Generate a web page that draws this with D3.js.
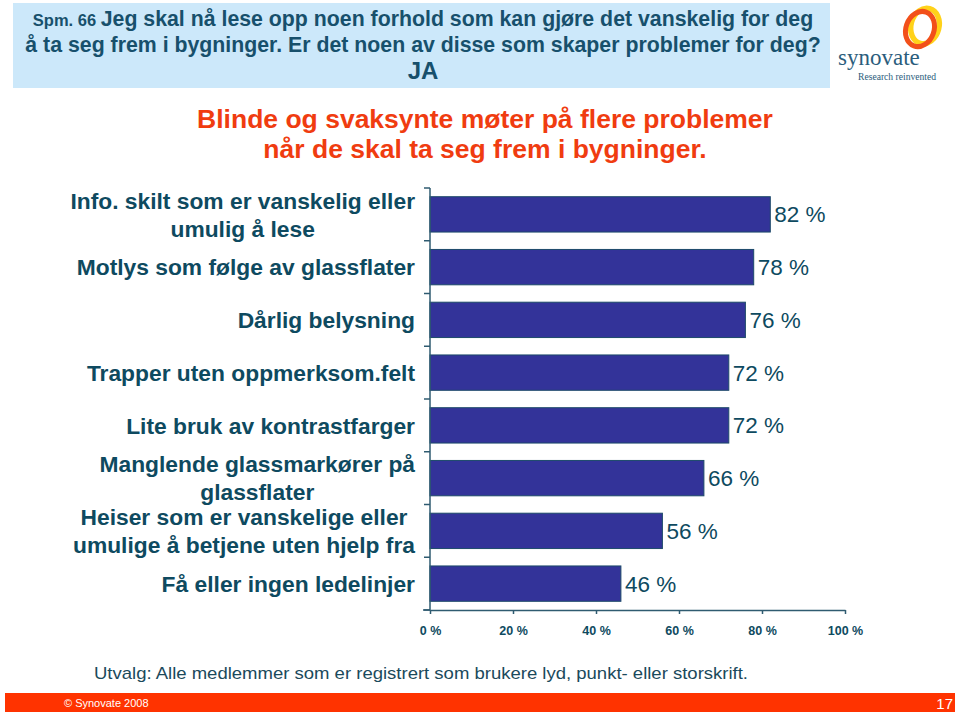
<!DOCTYPE html>
<html>
<head>
<meta charset="utf-8">
<script src="https://cdn.jsdelivr.net/npm/d3@7"></script>
<style>
  html, body { margin: 0; padding: 0; background: #ffffff; }
  svg { display: block; }
</style>
</head>
<body>
<svg id="chart" width="960" height="716"></svg>
<script>
// ---- data ----
const categories = [
  "Info. skilt som er vanskelig eller|umulig å lese",
  "Motlys som følge av glassflater",
  "Dårlig belysning",
  "Trapper uten oppmerksom.felt",
  "Lite bruk av kontrastfarger",
  "Manglende glassmarkører på|glassflater",
  "Heiser som er vanskelige eller|umulige å betjene uten hjelp fra",
  "Få eller ingen ledelinjer"
];
const values = [82, 78, 76, 72, 72, 66, 56, 46];
const xTicks = [0, 20, 40, 60, 80, 100];
const questionLines = [
  ["Spm. 66 ", "Jeg skal nå lese opp noen forhold som kan gjøre det vanskelig for deg"],
  ["", "å ta seg frem i bygninger. Er det noen av disse som skaper problemer for deg?"],
  ["", "JA"]
];
const headlineLines = [
  "Blinde og svaksynte møter på flere problemer",
  "når de skal ta seg frem i bygninger."
];
const footnote = "Utvalg: Alle medlemmer som er registrert som brukere lyd, punkt- eller storskrift.";
const copyright = "© Synovate 2008";
const pageNo = "17";

// ---- drawing ----
const svg = d3.select("#chart");
const FONT = "Liberation Sans, Arial, sans-serif";
const TEXT = "#0e4a60";

// header box
svg.append("rect").attr("x", 13).attr("y", 3).attr("width", 817).attr("height", 85)
  .attr("fill", "#cce8fa");
const qy = [26, 52, 79];
questionLines.forEach((l, i) => {
  const t = svg.append("text").attr("x", 423).attr("y", qy[i])
    .attr("text-anchor", "middle").attr("font-family", FONT).attr("font-weight", "bold")
    .attr("fill", "#17506c");
  if (l[0]) t.append("tspan").attr("font-size", 16.5).text(l[0]);
  t.append("tspan").attr("font-size", i === 2 ? 24 : 21.3).text(l[1]);
});

// logo
const logo = svg.append("g");
logo.append("ellipse").attr("cx", 925).attr("cy", 26).attr("rx", 14).attr("ry", 18)
  .attr("fill", "none").attr("stroke", "#ffd21a").attr("stroke-width", 5.5)
  .attr("transform", "rotate(15,925,26)");
logo.append("ellipse").attr("cx", 920).attr("cy", 29).attr("rx", 14).attr("ry", 18)
  .attr("fill", "none").attr("stroke", "#f2501a").attr("stroke-width", 5)
  .attr("transform", "rotate(20,920,29)");
logo.append("text").attr("x", 838).attr("y", 65).attr("font-family", "Liberation Serif, serif")
  .attr("font-size", 23).attr("fill", "#2b5d7c").text("synovate");
logo.append("text").attr("x", 858).attr("y", 80).attr("font-family", "Liberation Serif, serif")
  .attr("font-size", 9.6).attr("fill", "#2b5d7c").text("Research reinvented");

// headline
headlineLines.forEach((l, i) => {
  svg.append("text").attr("x", 485).attr("y", 128 + i * 30).attr("text-anchor", "middle")
    .attr("font-family", FONT).attr("font-weight", "bold").attr("font-size", 26.5)
    .attr("fill", "#f03c10").text(l);
});

// scales
const x = d3.scaleLinear().domain([0, 100]).range([430, 845]);
const y = d3.scaleBand().domain(categories).range([188, 610])
  .paddingInner(0.33).paddingOuter(0.165);

// bars
svg.append("g").selectAll("rect").data(values).join("rect")
  .attr("x", x(0)).attr("y", (d, i) => y(categories[i]))
  .attr("width", d => x(d) - x(0)).attr("height", y.bandwidth())
  .attr("fill", "#333399").attr("stroke", "#1d4a6a").attr("stroke-width", 1);

// value labels
svg.append("g").selectAll("text").data(values).join("text")
  .attr("x", d => x(d) + 4)
  .attr("y", (d, i) => y(categories[i]) + y.bandwidth() / 2)
  .attr("dy", "0.36em").attr("font-family", FONT).attr("font-size", 22.5)
  .attr("fill", TEXT).text(d => d + " %");

// category labels
categories.forEach((c, i) => {
  const lines = c.split("|");
  const cy = y(c) + y.bandwidth() / 2;
  if (lines.length === 1) {
    svg.append("text").attr("x", 415).attr("y", cy).attr("dy", "0.36em")
      .attr("text-anchor", "end").attr("font-family", FONT).attr("font-weight", "bold")
      .attr("font-size", 22.8).attr("fill", TEXT).text(lines[0]);
  } else {
    const g = svg.append("g");
    const ts = lines.map((l, k) => g.append("text").attr("y", cy + (k === 0 ? -14 : 14))
      .attr("dy", "0.36em").attr("text-anchor", "middle").attr("font-family", FONT)
      .attr("font-weight", "bold").attr("font-size", 22.8).attr("fill", TEXT).text(l));
    const w = Math.max(...ts.map(t => t.node().getComputedTextLength()));
    ts.forEach(t => t.attr("x", 415 - w / 2));
  }
});

// y axis line and ticks at band boundaries
const AX = "#2f5b70";
svg.append("line").attr("x1", 430).attr("x2", 430).attr("y1", 188).attr("y2", 610)
  .attr("stroke", AX).attr("stroke-width", 1.5);
d3.range(categories.length + 1).forEach(i => {
  const yy = 188 + i * y.step();
  svg.append("line").attr("x1", 424).attr("x2", 430).attr("y1", yy).attr("y2", yy)
    .attr("stroke", AX).attr("stroke-width", 1.5);
});

// x axis
const xAxis = d3.axisBottom(x).tickValues(xTicks).tickFormat(d => d + " %")
  .tickSizeInner(4).tickSizeOuter(0).tickPadding(12);
const gx = svg.append("g").attr("transform", "translate(0,610)").call(xAxis);
gx.select(".domain").attr("stroke", AX).attr("stroke-width", 1.5);
gx.selectAll(".tick line").attr("stroke", AX).attr("stroke-width", 1.5);
gx.selectAll(".tick text").attr("font-family", FONT).attr("font-weight", "bold")
  .attr("font-size", 12.5).attr("fill", TEXT);
svg.append("line").attr("x1", 423).attr("x2", 430).attr("y1", 610).attr("y2", 610)
  .attr("stroke", AX).attr("stroke-width", 1.5);

// footnote
svg.append("text").attr("x", 94).attr("y", 679).attr("font-family", FONT)
  .attr("font-size", 17).attr("fill", "#1b4a5c")
  .attr("textLength", 654).attr("lengthAdjust", "spacingAndGlyphs").text(footnote);

// footer bar
svg.append("rect").attr("x", 5).attr("y", 693).attr("width", 950).attr("height", 19)
  .attr("fill", "#ff3300");
svg.append("text").attr("x", 64).attr("y", 707).attr("font-family", FONT)
  .attr("font-size", 11).attr("fill", "#ffffff").text(copyright);
svg.append("text").attr("x", 953).attr("y", 709).attr("text-anchor", "end").attr("font-family", FONT)
  .attr("font-size", 15).attr("fill", "#ffffff").text(pageNo);
</script>
</body>
</html>
